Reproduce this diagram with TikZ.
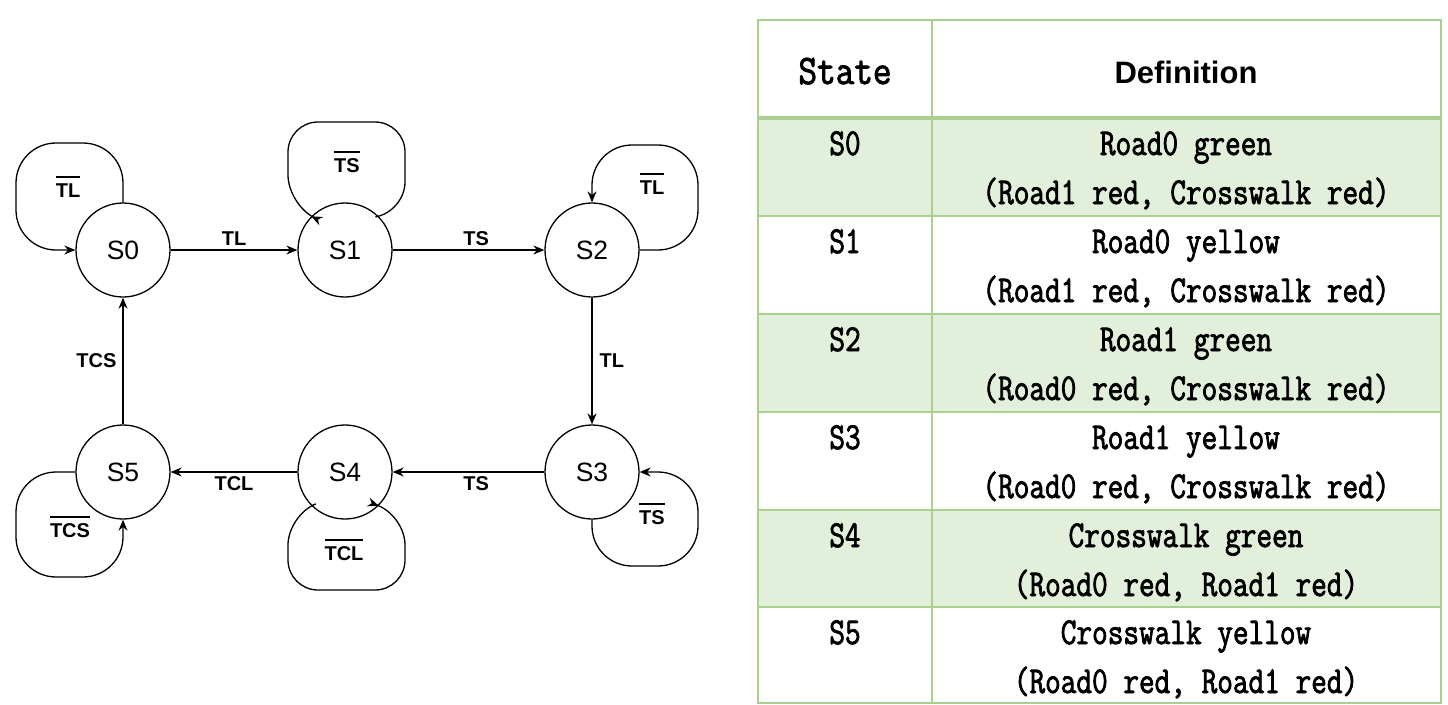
\documentclass[tikz,border=0pt]{standalone}
\usepackage{fontspec}
\setmainfont{Liberation Sans}
\newfontfamily\tblfont[FakeStretch=0.8,FakeBold=2]{Latin Modern Mono}
\newfontfamily\headfont[FakeStretch=0.86,FakeBold=2]{Latin Modern Mono}
\usetikzlibrary{arrows.meta}
\definecolor{tblline}{RGB}{169,208,142}
\definecolor{tblfill}{RGB}{226,239,218}
\newcommand{\ovl}[1]{\vbox{\hrule height 1.3pt \kern 6pt \hbox{#1}}}
\tikzset{
    stnode/.style={circle, draw, line width=1.3pt, minimum size=94pt, inner sep=0pt,
        font=\fontsize{26.5}{30}\selectfont},
    trans/.style={line width=1.3pt, -{Stealth[length=11pt, width=9pt]}},
    cond/.style={font=\fontsize{20}{24}\selectfont\bfseries, inner sep=4pt},
    loopcond/.style={font=\fontsize{20}{24}\selectfont\bfseries, inner sep=0pt},
    celltext/.style={font=\tblfont\fontsize{38}{42}\selectfont, inner sep=0pt, anchor=base},
    headtext/.style={inner sep=0pt, anchor=base},
    grid/.style={draw=tblline, line width=1.5pt}
}

\begin{document}
\begin{tikzpicture}[x=1pt, y=-1pt]
    \useasboundingbox (0,0) rectangle (1448,704);

    % states
    \node (S0) [stnode] at (123, 250) {S0};
    \node (S1) [stnode] at (345, 250) {S1};
    \node (S2) [stnode] at (592, 250) {S2};
    \node (S3) [stnode] at (592, 472) {S3};
    \node (S4) [stnode] at (345, 472) {S4};
    \node (S5) [stnode] at (123, 472) {S5};

    % transitions
    \draw[trans] (S0) -- (S1) node[cond, midway, above] {TL};
    \draw[trans] (S1) -- (S2) node[cond, pos=.55, above] {TS};
    \draw[trans] (S2) -- (S3) node[cond, midway, right, xshift=3pt] {TL};
    \draw[trans] (S3) -- (S4) node[cond, pos=.45, below] {TS};
    \draw[trans] (S4) -- (S5) node[cond, midway, below] {TCL};
    \draw[trans] (S5) -- (S0) node[cond, midway, left, xshift=-2pt] {TCS};

    % self loops
    \draw[trans, rounded corners=40pt] (S0.north) |- (16,143) |- (S0.west);
    \draw[trans, rounded corners=30pt] (S1.45) -- (405,212) -- (405,122) -- (288,122)
        -- (288,205) -- (S1.135);
    \draw[trans, rounded corners=40pt] (S2.east) -| (698,145) -| (S2.north);
    \draw[trans, rounded corners=40pt] (S3.south) |- (698,566) |- (S3.east);
    \draw[trans, rounded corners=30pt] (S4.225) -- (288,515) -- (288,590) -- (405,590)
        -- (405,515) -- (S4.-45);
    \draw[trans, rounded corners=40pt] (S5.west) -| (16,577) -| (S5.south);

    \node (c0) [loopcond] at (68, 187) {\ovl{TL}};
    \node (c1) [loopcond] at (347, 162) {\ovl{TS}};
    \node (c2) [loopcond] at (652, 184) {\ovl{TL}};
    \node (c3) [loopcond] at (652, 514) {\ovl{TS}};
    \node (c4) [loopcond] at (344, 550) {\ovl{TCL}};
    \node (c5) [loopcond] at (70, 527) {\ovl{TCS}};

    % table
    \fill[tblfill] (758,118) rectangle (1441,216);
    \fill[tblfill] (758,314) rectangle (1441,412);
    \fill[tblfill] (758,510) rectangle (1441,607);
    \draw[grid] (758,20) rectangle (1441,703);
    \draw[grid] (932,20) -- (932,703);
    \draw[grid] (758,216) -- (1441,216);
    \draw[grid] (758,314) -- (1441,314);
    \draw[grid] (758,412) -- (1441,412);
    \draw[grid] (758,510) -- (1441,510);
    \draw[grid] (758,607) -- (1441,607);
    \draw[grid, line width=3.5pt] (758,118) -- (1441,118);

    \node (hst) [headtext, font=\headfont\fontsize{42}{46}\selectfont] at (845, 84) {State};
    \node (hdf) [headtext, font=\fontsize{31}{36}\selectfont\bfseries] at (1186, 83) {Definition};

    \node (st0) [celltext] at (845, 155) {S0};
    \node (df0a) [celltext] at (1186, 155) {Road0 green};
    \node (df0b) [celltext] at (1186, 204) {(Road1 red, Crosswalk red)};
    \node (st1) [celltext] at (845, 253) {S1};
    \node (df1a) [celltext] at (1186, 253) {Road0 yellow};
    \node (df1b) [celltext] at (1186, 302) {(Road1 red, Crosswalk red)};
    \node (st2) [celltext] at (845, 351) {S2};
    \node (df2a) [celltext] at (1186, 351) {Road1 green};
    \node (df2b) [celltext] at (1186, 400) {(Road0 red, Crosswalk red)};
    \node (st3) [celltext] at (845, 449) {S3};
    \node (df3a) [celltext] at (1186, 449) {Road1 yellow};
    \node (df3b) [celltext] at (1186, 498) {(Road0 red, Crosswalk red)};
    \node (st4) [celltext] at (845, 547) {S4};
    \node (df4a) [celltext] at (1186, 547) {Crosswalk green};
    \node (df4b) [celltext] at (1186, 596) {(Road0 red, Road1 red)};
    \node (st5) [celltext] at (845, 644) {S5};
    \node (df5a) [celltext] at (1186, 644) {Crosswalk yellow};
    \node (df5b) [celltext] at (1186, 693) {(Road0 red, Road1 red)};
\end{tikzpicture}
\end{document}
